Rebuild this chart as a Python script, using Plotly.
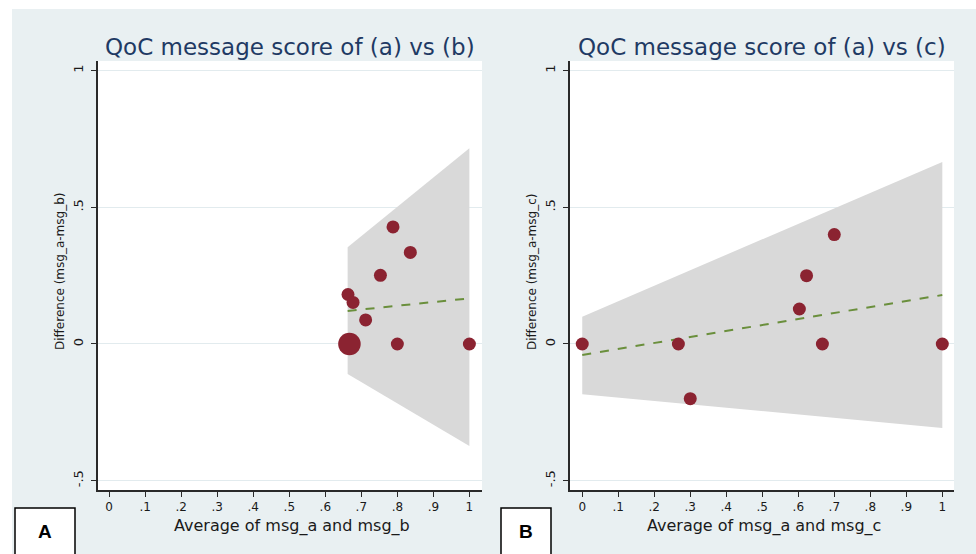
import plotly.graph_objects as go

# ---------------- data : panel A (msg_a vs msg_b) ----------------
avg_ab = [0.663, 0.677, 0.712, 0.753, 0.788, 0.836, 0.667, 0.800, 1.000]
diff_ab = [0.181, 0.152, 0.088, 0.251, 0.428, 0.335, 0.000, 0.000, 0.000]
freq_ab = [1, 1, 1, 1, 1, 1, 3, 1, 1]
fit_x_ab = [0.662, 1.000]
fit_y_ab = [0.121, 0.167]
band_x_ab = [0.662, 1.000]
band_hi_ab = [0.354, 0.716]
band_lo_ab = [-0.110, -0.373]

# ---------------- data : panel B (msg_a vs msg_c) ----------------
avg_ac = [0.000, 0.267, 0.300, 0.603, 0.623, 0.700, 0.667, 1.000]
diff_ac = [0.000, 0.000, -0.200, 0.128, 0.250, 0.400, 0.000, 0.000]
freq_ac = [1, 1, 1, 1, 1, 1, 1, 1]
fit_x_ac = [0.000, 1.000]
fit_y_ac = [-0.040, 0.179]
band_x_ac = [0.000, 1.000]
band_hi_ac = [0.100, 0.666]
band_lo_ac = [-0.184, -0.307]

x_tick_vals = [0, 0.1, 0.2, 0.3, 0.4, 0.5, 0.6, 0.7, 0.8, 0.9, 1]
x_tick_text = ["0", ".1", ".2", ".3", ".4", ".5", ".6", ".7", ".8", ".9", "1"]
y_tick_vals = [-0.5, 0, 0.5, 1]
y_tick_text = ["-.5", "0", ".5", "1"]

titles = ["QoC message score of (a) vs (b)", "QoC message score of (a) vs (c)"]
x_titles = ["Average of msg_a and msg_b", "Average of msg_a and msg_c"]
y_titles = ["Difference (msg_a-msg_b)", "Difference (msg_a-msg_c)"]
panel_labels = ["A", "B"]

# ---------------- styling ----------------
W, H = 976, 554
BG = "#e9f0f2"
GRID = "#e2ebee"
AXIS = "#2a2a2a"
MARKER = "#8b2331"
BAND = "#d9d9d9"
FIT = "#6a8f3c"
TITLE_C = "#1f3a64"
FONT = "DejaVu Sans"

def px_x(v):
    return v / W

def px_y(v):
    return 1 - v / H

fig = go.Figure()

panels = [
    (avg_ab, diff_ab, freq_ab, fit_x_ab, fit_y_ab, band_x_ab, band_hi_ab, band_lo_ab, "x", "y"),
    (avg_ac, diff_ac, freq_ac, fit_x_ac, fit_y_ac, band_x_ac, band_hi_ac, band_lo_ac, "x2", "y2"),
]
for ax, ay, fq, fx, fy, bx, bhi, blo, xa, ya in panels:
    fig.add_trace(go.Scatter(
        x=bx + bx[::-1], y=bhi + blo[::-1], mode="lines", fill="toself",
        fillcolor=BAND, line=dict(width=0, color=BAND), xaxis=xa, yaxis=ya,
        showlegend=False, hoverinfo="skip"))
    fig.add_trace(go.Scatter(
        x=fx, y=fy, mode="lines", line=dict(color=FIT, width=2, dash="dash"),
        xaxis=xa, yaxis=ya, showlegend=False))
    fig.add_trace(go.Scatter(
        x=ax, y=ay, mode="markers", opacity=1,
        marker=dict(color=MARKER, opacity=1, size=[13 * (f ** 0.5) for f in fq],
                    line=dict(width=0)),
        xaxis=xa, yaxis=ya, showlegend=False))

ydom = [px_y(490), px_y(61)]
xdoms = [[px_x(98), px_x(482)], [px_x(570), px_x(954)]]
xranges = [[-0.031, 1.035], [-0.034, 1.0325]]
yrange = [-0.534, 1.035]

common_x = dict(showgrid=False, zeroline=False, showline=True, linecolor=AXIS, linewidth=1.5,
                ticks="outside", ticklen=5, tickwidth=1.2, tickcolor=AXIS,
                tickvals=x_tick_vals, ticktext=x_tick_text, ticklabelstandoff=0,
                tickfont=dict(family=FONT, size=12, color="#1a1a1a"))
common_y = dict(showgrid=True, gridcolor=GRID, gridwidth=1, zeroline=False, showline=True,
                linecolor=AXIS, linewidth=1.5, ticks="outside", ticklen=5, tickwidth=1.2,
                tickcolor=AXIS, tickvals=y_tick_vals, ticktext=y_tick_text, tickangle=-90,
                ticklabelstandoff=3,
                tickfont=dict(family=FONT, size=13, color="#1a1a1a"), range=yrange, domain=ydom)

fig.update_layout(
    width=W, height=H, margin=dict(l=0, r=0, t=0, b=0),
    paper_bgcolor=BG, plot_bgcolor="white",
    xaxis=dict(domain=xdoms[0], range=xranges[0], anchor="y", **common_x),
    yaxis=dict(anchor="x", **common_y),
    xaxis2=dict(domain=xdoms[1], range=xranges[1], anchor="y2", **common_x),
    yaxis2=dict(anchor="x2", **common_y),
    hovermode=False,
)

shapes = [
    dict(type="rect", xref="paper", yref="paper", x0=0, x1=1, y0=px_y(9), y1=1.01,
         fillcolor="white", line=dict(width=0), layer="below"),
    dict(type="rect", xref="paper", yref="paper", x0=-0.01, x1=px_x(12), y0=-0.01, y1=1.01,
         fillcolor="white", line=dict(width=0), layer="below"),
    dict(type="rect", xref="paper", yref="paper", x0=px_x(15), x1=px_x(75), y0=-0.05, y1=px_y(508),
         fillcolor="white", line=dict(color="black", width=1.5)),
    dict(type="rect", xref="paper", yref="paper", x0=px_x(501), x1=px_x(551), y0=-0.05, y1=px_y(508),
         fillcolor="white", line=dict(color="black", width=1.5)),
]
fig.update_layout(shapes=shapes)

ann = []
title_cx = [290, 762]
xt_cx = [292, 764]
yt_cx = [60, 532]
lab_cx = [45, 526]
for i in range(2):
    ann.append(dict(xref="paper", yref="paper", x=px_x(title_cx[i]), y=px_y(47), text=titles[i],
                    showarrow=False, xanchor="center", yanchor="middle",
                    font=dict(family=FONT, size=23, color=TITLE_C)))
    ann.append(dict(xref="paper", yref="paper", x=px_x(xt_cx[i]), y=px_y(526), text=x_titles[i],
                    showarrow=False, xanchor="center", yanchor="middle",
                    font=dict(family=FONT, size=16, color="#1a1a1a")))
    ann.append(dict(xref="paper", yref="paper", x=px_x(yt_cx[i]), y=px_y(272), text=y_titles[i],
                    showarrow=False, xanchor="center", yanchor="middle", textangle=-90,
                    font=dict(family=FONT, size=12, color="#1a1a1a")))
    ann.append(dict(xref="paper", yref="paper", x=px_x(lab_cx[i]), y=px_y(531), text="<b>%s</b>" % panel_labels[i],
                    showarrow=False, xanchor="center", yanchor="middle",
                    font=dict(family="Liberation Sans", size=19, color="black")))
fig.update_layout(annotations=ann)

fig.write_html("out.html", config={"displayModeBar": False},
               post_script="document.body.style.margin='0px';")
